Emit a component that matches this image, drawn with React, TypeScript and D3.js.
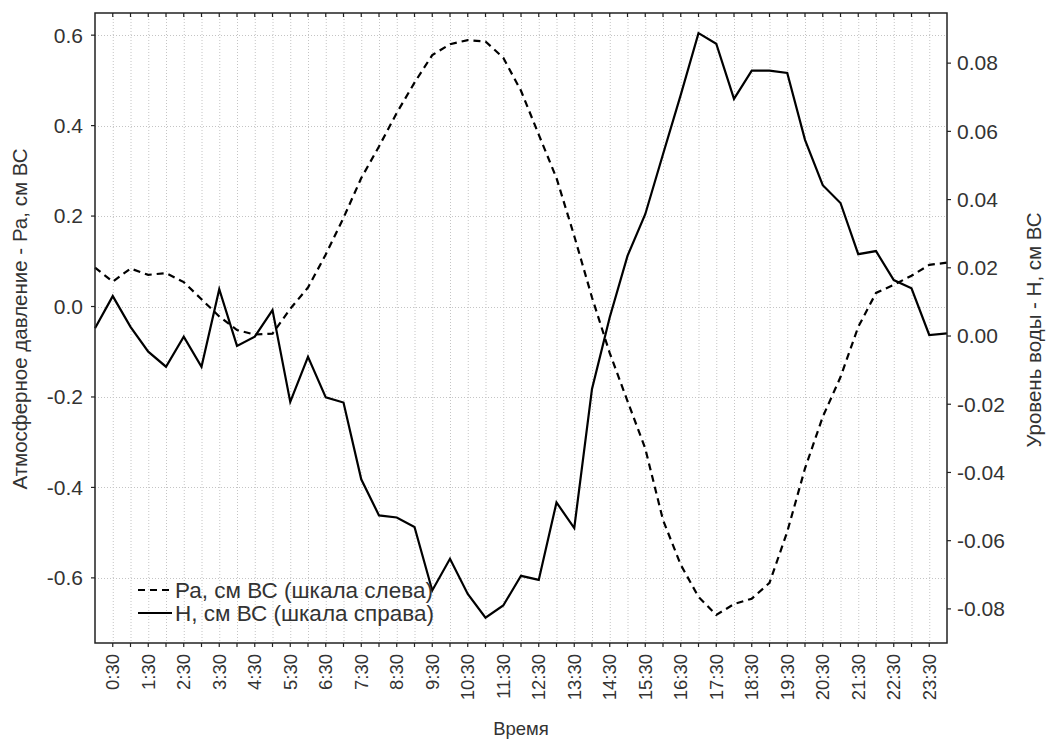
import React, { useRef, useEffect } from 'react';
import * as d3 from 'd3';

// half-hour readings, 0:00 .. 24:00
const times = [
  '0:00', '0:30', '1:00', '1:30', '2:00', '2:30', '3:00', '3:30', '4:00', '4:30',
  '5:00', '5:30', '6:00', '6:30', '7:00', '7:30', '8:00', '8:30', '9:00', '9:30',
  '10:00', '10:30', '11:00', '11:30', '12:00', '12:30', '13:00', '13:30', '14:00', '14:30',
  '15:00', '15:30', '16:00', '16:30', '17:00', '17:30', '18:00', '18:30', '19:00', '19:30',
  '20:00', '20:30', '21:00', '21:30', '22:00', '22:30', '23:00', '23:30', '24:00'
];

// Ра, см ВС (left scale)
const pa = [
  0.086, 0.055, 0.084, 0.070, 0.074, 0.054, 0.016, -0.022, -0.052, -0.062,
  -0.060, -0.005, 0.042, 0.115, 0.196, 0.284, 0.354, 0.428, 0.495, 0.556,
  0.580, 0.589, 0.586, 0.550, 0.477, 0.380, 0.284, 0.156, 0.020, -0.103,
  -0.209, -0.314, -0.472, -0.571, -0.642, -0.682, -0.658, -0.646, -0.611, -0.498,
  -0.358, -0.244, -0.156, -0.045, 0.030, 0.048, 0.068, 0.092, 0.097
];

// Н, см ВС (right scale)
const hw = [
  0.0023, 0.0117, 0.0027, -0.0046, -0.0090, -0.0002, -0.0090, 0.0137, -0.0029, -0.0002,
  0.0076, -0.0193, -0.0061, -0.0180, -0.0195, -0.0420, -0.0526, -0.0532, -0.0560, -0.0746,
  -0.0653, -0.0756, -0.0826, -0.0790, -0.0703, -0.0715, -0.0488, -0.0563, -0.0155, 0.0055,
  0.0235, 0.0357, 0.0533, 0.0707, 0.0888, 0.0857, 0.0695, 0.0778, 0.0778, 0.0771,
  0.0575, 0.0442, 0.0390, 0.0240, 0.0249, 0.0164, 0.0140, 0.0003, 0.0008
];

const xTickLabels = [
  '0:30', '1:30', '2:30', '3:30', '4:30', '5:30', '6:30', '7:30', '8:30', '9:30',
  '10:30', '11:30', '12:30', '13:30', '14:30', '15:30', '16:30', '17:30', '18:30', '19:30',
  '20:30', '21:30', '22:30', '23:30'
];
const leftTicks = [-0.6, -0.4, -0.2, 0, 0.2, 0.4, 0.6];
const rightTicks = [-0.08, -0.06, -0.04, -0.02, 0, 0.02, 0.04, 0.06, 0.08];

const FONT = "'Liberation Sans', Arial, sans-serif";
const TXT = '#333';

const App = () => {
  const svgRef = useRef(null);

  useEffect(() => {
    const width = 1046;
    const height = 739;
    const margin = { top: 13, right: 99, bottom: 96, left: 95 };
    const x0 = margin.left, x1 = width - margin.right;
    const y0 = margin.top, y1 = height - margin.bottom;

    const svg = d3.select(svgRef.current);
    svg.selectAll('*').remove();
    svg.attr('width', width).attr('height', height);

    const xScale = d3.scalePoint().domain(times).range([x0, x1]);
    const yLeft = d3.scaleLinear().domain([-0.744, 0.649]).range([y1, y0]);
    const yRight = d3.scaleLinear().domain([-0.090, 0.0947]).range([y1, y0]);

    const inner = times.slice(1, -1);

    // grid
    const grid = svg.append('g').attr('stroke', '#c4c4c4').attr('stroke-width', 1).attr('stroke-dasharray', '1,2');
    grid.selectAll('.vg').data(inner).enter().append('line')
      .attr('x1', d => xScale(d) + 0.5).attr('x2', d => xScale(d) + 0.5)
      .attr('y1', y0).attr('y2', y1);
    grid.selectAll('.hg').data(leftTicks).enter().append('line')
      .attr('x1', x0).attr('x2', x1)
      .attr('y1', d => Math.round(yLeft(d)) + 0.5).attr('y2', d => Math.round(yLeft(d)) + 0.5);

    // series
    const linePa = d3.line().x((d, i) => xScale(times[i])).y(d => yLeft(d));
    const lineH = d3.line().x((d, i) => xScale(times[i])).y(d => yRight(d));

    svg.append('path').datum(pa)
      .attr('d', linePa).attr('fill', 'none').attr('stroke', '#000')
      .attr('stroke-width', 2.2).attr('stroke-dasharray', '7,5');
    svg.append('path').datum(hw)
      .attr('d', lineH).attr('fill', 'none').attr('stroke', '#000')
      .attr('stroke-width', 2.2).attr('stroke-linejoin', 'miter');

    // frame
    svg.append('rect')
      .attr('x', x0).attr('y', y0).attr('width', x1 - x0).attr('height', y1 - y0)
      .attr('fill', 'none').attr('stroke', '#222').attr('stroke-width', 1.5);

    // x ticks, top (inward) and bottom (outward)
    const ticks = svg.append('g').attr('stroke', '#222').attr('stroke-width', 1.2);
    ticks.selectAll('.tt').data(inner).enter().append('line')
      .attr('x1', d => xScale(d)).attr('x2', d => xScale(d)).attr('y1', y0).attr('y2', y0 + 4);
    ticks.selectAll('.bt').data(inner).enter().append('line')
      .attr('x1', d => xScale(d)).attr('x2', d => xScale(d)).attr('y1', y1).attr('y2', y1 + 4);
    ticks.selectAll('.lt').data(leftTicks).enter().append('line')
      .attr('x1', x0 - 4).attr('x2', x0).attr('y1', d => yLeft(d)).attr('y2', d => yLeft(d));
    ticks.selectAll('.rt').data(rightTicks).enter().append('line')
      .attr('x1', x1).attr('x2', x1 + 4).attr('y1', d => yRight(d)).attr('y2', d => yRight(d));

    // tick labels
    svg.append('g').selectAll('text').data(xTickLabels).enter().append('text')
      .attr('transform', d => `translate(${xScale(d)},${y1 + 11}) rotate(-90)`)
      .attr('text-anchor', 'end').attr('dy', '0.35em')
      .style('font-family', FONT).style('font-size', '18.5px').attr('fill', TXT)
      .text(d => d);

    svg.append('g').selectAll('text').data(leftTicks).enter().append('text')
      .attr('x', x0 - 12).attr('y', d => yLeft(d)).attr('dy', '0.35em')
      .attr('text-anchor', 'end')
      .style('font-family', FONT).style('font-size', '21px').attr('fill', TXT)
      .text(d => d.toFixed(1));

    svg.append('g').selectAll('text').data(rightTicks).enter().append('text')
      .attr('x', x1 + 10).attr('y', d => yRight(d)).attr('dy', '0.35em')
      .attr('text-anchor', 'start')
      .style('font-family', FONT).style('font-size', '21px').attr('fill', TXT)
      .text(d => d.toFixed(2));

    // axis titles
    svg.append('text')
      .attr('x', (x0 + x1) / 2).attr('y', 729).attr('dy', '0.35em')
      .attr('text-anchor', 'middle')
      .style('font-family', FONT).style('font-size', '18.5px').attr('fill', TXT)
      .text('Время');

    svg.append('text')
      .attr('transform', `translate(20,319) rotate(-90)`)
      .attr('text-anchor', 'middle').attr('dy', '0.35em')
      .style('font-family', FONT).style('font-size', '20.5px').attr('fill', TXT)
      .text('Атмосферное давление - Ра, см ВС');

    svg.append('text')
      .attr('transform', `translate(1034,330) rotate(-90)`)
      .attr('text-anchor', 'middle').attr('dy', '0.35em')
      .style('font-family', FONT).style('font-size', '20.5px').attr('fill', TXT)
      .text('Уровень воды - Н, см ВС');

    // legend
    const legend = svg.append('g').attr('transform', 'translate(138,590)');
    const items = [
      { label: 'Ра, см ВС (шкала слева)', dash: '7,5' },
      { label: 'Н, см ВС (шкала справа)', dash: null }
    ];
    items.forEach((it, k) => {
      const g = legend.append('g').attr('transform', `translate(0,${k * 23})`);
      g.append('line').attr('x1', 0).attr('x2', 34).attr('y1', 0).attr('y2', 0)
        .attr('stroke', '#000').attr('stroke-width', 2.2)
        .attr('stroke-dasharray', it.dash);
      g.append('text').attr('x', 37).attr('y', 0).attr('dy', '0.35em')
        .style('font-family', FONT).style('font-size', '22.5px').attr('fill', TXT)
        .text(it.label);
    });
  }, []);

  return (
    <div style={{ position: 'absolute', left: 0, top: 0, width: 1046, height: 739, background: '#fff' }}>
      <svg ref={svgRef} style={{ display: 'block' }}></svg>
    </div>
  );
};

export default App;
